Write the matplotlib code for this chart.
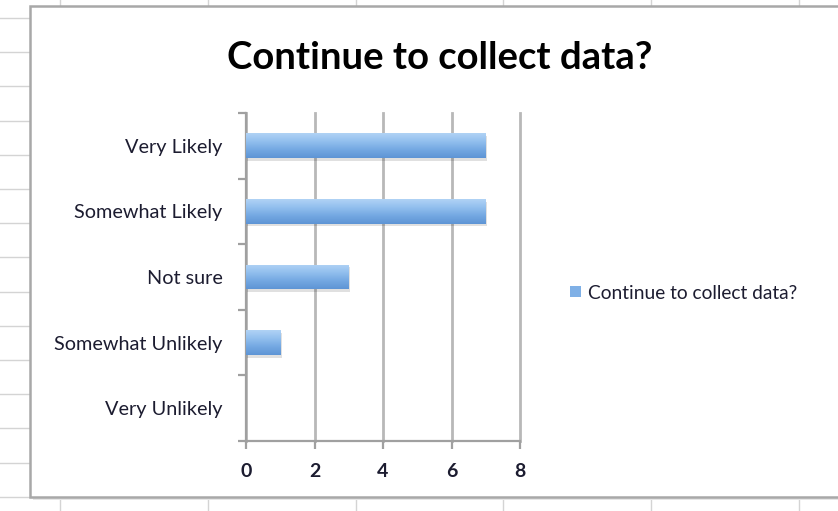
import numpy as np
import matplotlib.pyplot as plt
import matplotlib as mpl
from matplotlib.patches import Rectangle, Patch

categories = ["Very Unlikely", "Somewhat Unlikely", "Not sure", "Somewhat Likely", "Very Likely"]
values = [0, 1, 3, 7, 7]
series_name = "Continue to collect data?"
x_ticks = [0, 2, 4, 6, 8]

mpl.rcParams.update({
    "font.family": ["Lato", "DejaVu Sans"],
    "figure.facecolor": "white",
})

W, H = 838, 511
fig = plt.figure(figsize=(W / 100, H / 100), dpi=100)

# ----- spreadsheet backdrop (grid lines behind the chart object) -----
bg = fig.add_axes([0, 0, 1, 1], zorder=0)
bg.set_xlim(0, W)
bg.set_ylim(H, 0)
bg.axis('off')
for gy in np.arange(18, H, 34.2):
    bg.plot([0, W], [gy, gy], color="#d4d4d4", lw=1.0, zorder=1)
for gx in np.arange(60, W, 147.8):
    bg.plot([gx, gx], [0, H], color="#d4d4d4", lw=1.0, zorder=1)
# chart object box with soft shadow
bg.add_patch(Rectangle((33, 9), W, 491, facecolor="#e6e6e6", edgecolor="none", zorder=5))
bg.add_patch(Rectangle((30, 6), W, 491, facecolor="white", edgecolor="#a8a8a8",
                       lw=1.8, zorder=6))

# ----- plot area -----
ax = fig.add_axes([246 / W, 1 - 441 / H, (520 - 246) / W, (441 - 113) / H], zorder=2)
ax.patch.set_alpha(0)
y = np.arange(len(categories))
bars = ax.barh(y, values, height=0.38, color="#7fb0e6", edgecolor="none", zorder=3)

# Excel-style vertical gradient on each bar, plus a faint drop shadow
grad = np.linspace(0, 1, 64).reshape(-1, 1)
cmap = mpl.colors.LinearSegmentedColormap.from_list(
    "xlbar", ["#b0d2f5", "#92bfee", "#74a8e2", "#5e95d5"])
for b in bars:
    x0, y0, w, h = b.get_x(), b.get_y(), b.get_width(), b.get_height()
    if w <= 0:
        continue
    ax.add_patch(Rectangle((x0, y0 - 0.04), w + 0.05, h, facecolor="#000000",
                           alpha=0.12, edgecolor="none", zorder=2))
    im = ax.imshow(grad, cmap=cmap, aspect='auto', extent=[x0, x0 + w, y0, y0 + h],
                   origin='upper', zorder=4, interpolation='bilinear')
    im.set_clip_path(b)

ax.set_xlim(0, 8)
ax.set_ylim(-0.5, len(categories) - 0.5)
ax.set_xticks(x_ticks)
ax.set_xticklabels([str(t) for t in x_ticks])
ax.set_yticks(y)
ax.set_yticklabels(categories)
ax.set_yticks(np.arange(-0.5, len(categories), 1.0), minor=True)

ax.grid(axis='x', color="#b8b8b8", lw=2.0, zorder=1)
ax.set_axisbelow(True)
for gl in ax.get_xgridlines():
    gl.set_clip_on(False)
for s in ["top", "right"]:
    ax.spines[s].set_visible(False)
for s in ["left", "bottom"]:
    ax.spines[s].set_color("#a0a0a0")
    ax.spines[s].set_linewidth(1.6)

ax.tick_params(axis='y', which='major', length=0, pad=17, labelsize=14.3,
               labelcolor="#1c1c30")
ax.tick_params(axis='y', which='minor', length=6, width=1.6, color="#a0a0a0")
ax.tick_params(axis='x', length=6, width=1.6, color="#a0a0a0", pad=10,
               labelsize=14, labelcolor="#1c1c30")
for lab in ax.get_xticklabels():
    lab.set_fontweight('bold')

fig.text(440 / W, 1 - 58 / H, "Continue to collect data?", ha='center', va='center',
         fontsize=27.5, fontweight='bold', color="black", zorder=5)

leg = fig.legend(handles=[Patch(facecolor="#7fb0e6", edgecolor="none", label=series_name)],
                 loc='center left', bbox_to_anchor=(553 / W, 1 - 293 / H),
                 frameon=False, fontsize=13.8, handlelength=0.55, handleheight=0.55,
                 handletextpad=0.35, labelcolor="#1c1c30")

fig.savefig("out.png", dpi=100, facecolor='white')
